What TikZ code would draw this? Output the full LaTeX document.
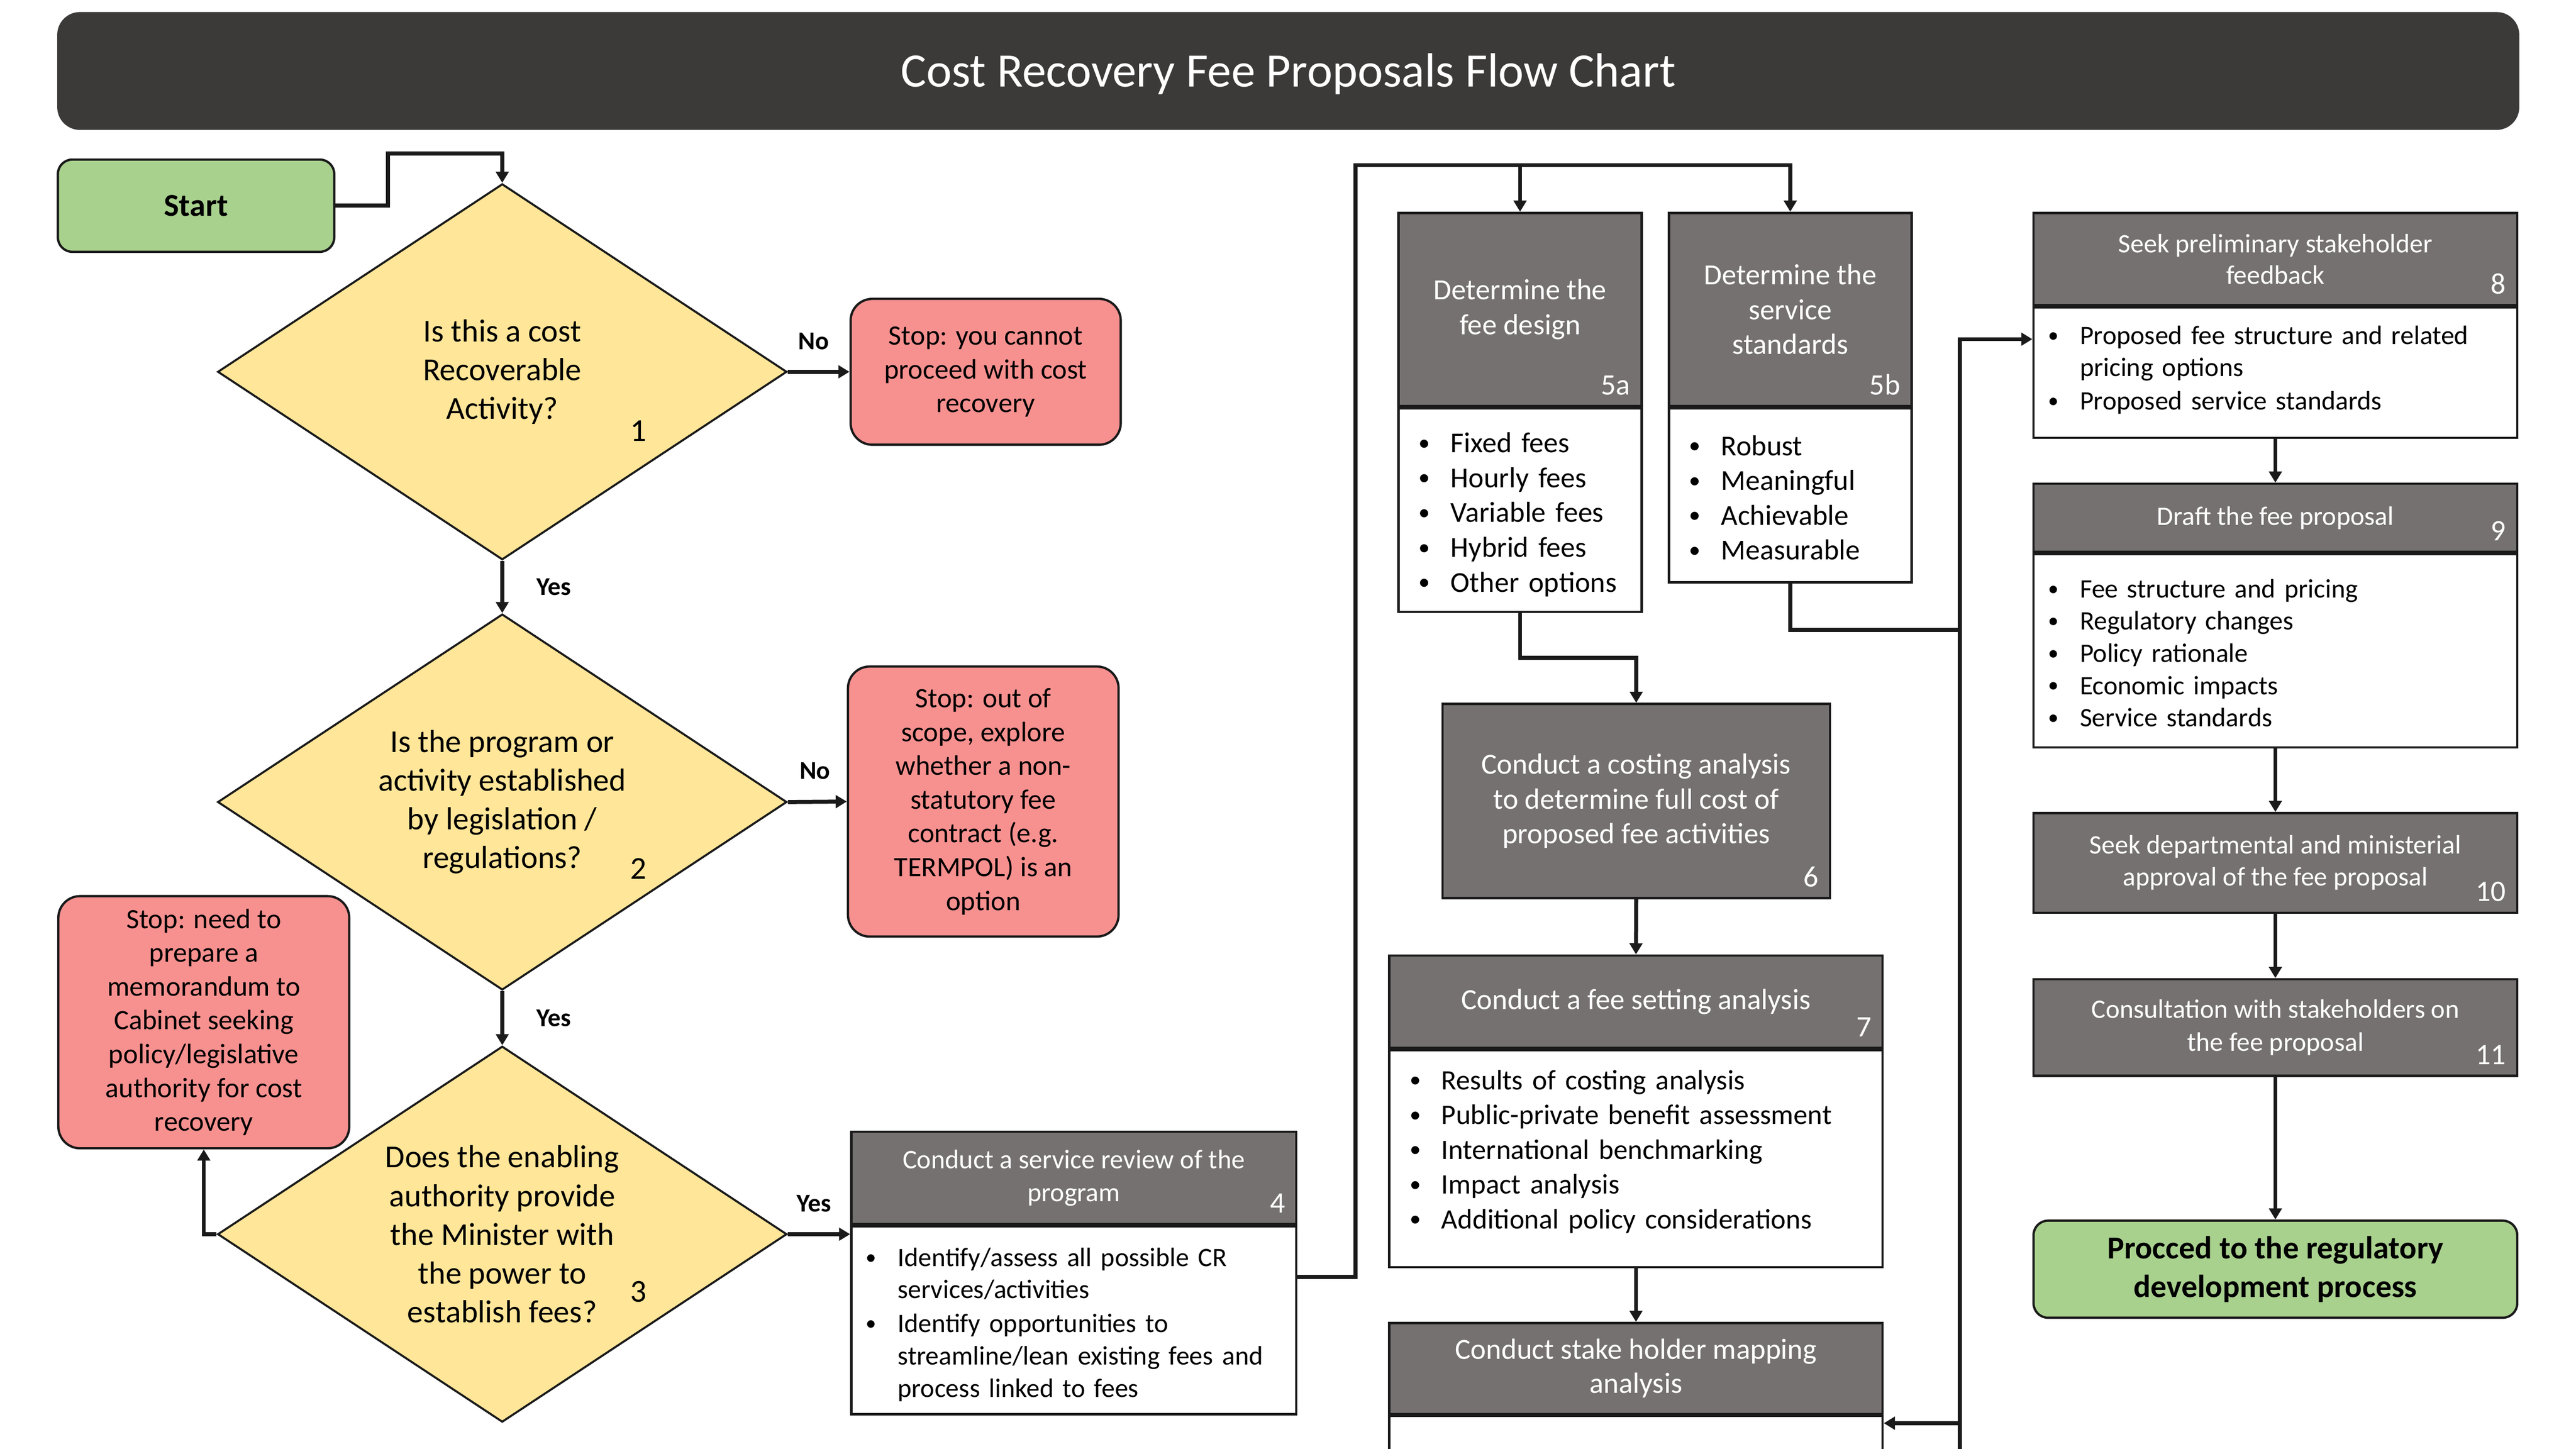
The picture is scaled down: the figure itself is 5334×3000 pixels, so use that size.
\documentclass[tikz,border=0pt]{standalone}
\usepackage{fontspec}
\setmainfont{Carlito}
\usepackage{graphicx}
\usepackage{tikz}
\usetikzlibrary{calc}
\usetikzlibrary{arrows.meta,positioning,shapes.geometric}

\definecolor{barc}{HTML}{3B3A38}
\definecolor{boxc}{HTML}{767171}
\definecolor{goc}{HTML}{A9D18E}
\definecolor{askc}{HTML}{FFE699}
\definecolor{stopc}{HTML}{F79190}
\definecolor{linec}{HTML}{1A1A1A}

\setlength\parskip{0pt}
\newcommand\fs[2]{\fontsize{#1}{#2}\selectfont}
\newcommand\bpt[3]{\par\noindent\makebox[#2][l]{\hspace{#1}\raisebox{0.08em}{\scalebox{0.8}{\textbullet}}}%
   \begin{tabular}[t]{@{}l@{}}#3\end{tabular}}
\newcommand\bitem[1]{\bpt{0.42cm}{1.08cm}{#1}}
\newcommand\sitem[1]{\bpt{0.3cm}{0.96cm}{#1}}

\begin{document}
\begin{tikzpicture}[x=0.01cm,y=-0.01cm,
   line/.style={draw=linec,line width=2.35pt},
   arr/.style={line,-{Triangle[length=0.23cm,width=0.26cm]}},
   titlebar/.style={fill=barc,rounded corners=0.47cm,text=white,font=\fs{28.3}{34},
      minimum width=50.95cm,minimum height=2.44cm,text height=24pt,text depth=5.4pt},
   go/.style={draw=linec,line width=1.35pt,fill=goc,rounded corners=0.3cm,align=center,
      font=\bfseries\fs{18.8}{22.8}},
   ask/.style={diamond,shape aspect=1.5,draw=linec,line width=1.2pt,fill=askc,inner sep=0pt,
      minimum width=11.78cm,minimum height=7.78cm,align=center,font=\fs{18.8}{22.8}},
   stopbox/.style={draw=linec,line width=1.35pt,fill=stopc,rounded corners=0.45cm,align=center,
      font=\fs{16.5}{19.9}},
   head/.style={draw=linec,line width=1.35pt,fill=boxc,text=white,align=center,inner sep=0pt},
   body/.style={draw=linec,line width=1.35pt,fill=white,inner sep=0pt,align=left},
   num/.style={text=white,inner sep=0.25cm,anchor=south east,font=\fs{17.5}{20}},
   dnum/.style={font=\fs{18.8}{22.8}},
   lbl/.style={inner sep=0pt,font=\bfseries\fs{15.1}{18}}]
\useasboundingbox (0,0) rectangle (5334,3000);
\clip (0,0) rectangle (5334,3000);

\node[titlebar] (title) at (2667.5,147) {Cost Recovery Fee Proposals Flow Chart};
\node[go,minimum width=5.72cm,minimum height=1.91cm] (start) at (406,426) {Start};

\node[ask] (d1) at (1040,770) {Is this a cost\\Recoverable\\Activity?};
\node[ask] (d2) at (1040,1661) {Is the program or\\activity established\\by legislation /\\regulations?};
\node[ask] (d3) at (1040,2556) {Does the enabling\\authority provide\\the Minister with\\the power to\\establish fees?};
\node[dnum] (k1) at ($(d1)+(282,122)$) {1};
\node[dnum] (k2) at ($(d2)+(282,138)$) {2};
\node[dnum] (k3) at ($(d3)+(282,119)$) {3};

\node[stopbox,minimum width=5.59cm,minimum height=3.02cm] (stop1) at (2041,770)
   {Stop: you cannot\\proceed with cost\\recovery};
\node[stopbox,minimum width=5.6cm,minimum height=5.59cm] (stop2) at (2036,1660)
   {Stop: out of\\scope, explore\\whether a non-\\statutory fee\\contract (e.g.\\TERMPOL) is an\\option};
\node[stopbox,minimum width=6.02cm,minimum height=5.22cm] (stop3) at (422,2117)
   {Stop: need to\\prepare a\\memorandum to\\Cabinet seeking\\policy/legislative\\authority for cost\\recovery};

\node[head,minimum width=9.21cm,minimum height=1.91cm,font=\fs{15.8}{19.6}] (h4) at (2223.5,2439.5)
   {Conduct a service review of the\\program};
\node[body,below=0pt of h4,text width=9.21cm,minimum height=3.89cm,font=\fs{15.7}{19}] (b4)
   {\sitem{Identify/assess all possible CR\\services/activities}%
    \sitem{Identify opportunities to\\streamline/lean existing fees and\\process linked to fees}};
\node[num] (k4) at (h4.south east) {4};

\node[head,minimum width=5.03cm,minimum height=4cm,font=\fs{17.2}{20.5}] (h5a) at (3147.5,641)
   {Determine the\\fee design};
\node[body,below=0pt of h5a,text width=5.03cm,minimum height=4.21cm,font=\fs{17}{20.5}] (b5a)
   {\bitem{Fixed fees}\bitem{Hourly fees}\bitem{Variable fees}\bitem{Hybrid fees}\bitem{Other options}};
\node[num] (k5a) at (h5a.south east) {5a};

\node[head,minimum width=5.02cm,minimum height=4cm,font=\fs{17.2}{20.5}] (h5b) at (3707,641)
   {Determine the\\service\\standards};
\node[body,below=0pt of h5b,text width=5.02cm,minimum height=3.6cm,font=\fs{17}{20.5}] (b5b)
   {\bitem{Robust}\bitem{Meaningful}\bitem{Achievable}\bitem{Measurable}};
\node[num] (k5b) at (h5b.south east) {5b};

\node[head,minimum width=8.02cm,minimum height=4.02cm,font=\fs{17.2}{20.5}] (c6) at (3388,1659)
   {Conduct a costing analysis\\to determine full cost of\\proposed fee activities};
\node[num] (k6) at (c6.south east) {6};

\node[head,minimum width=10.21cm,minimum height=1.91cm,font=\fs{17.2}{20.5}] (h7) at (3387.5,2074.5)
   {Conduct a fee setting analysis};
\node[body,below=0pt of h7,text width=10.21cm,minimum height=4.49cm,font=\fs{16.6}{20.5}] (b7)
   {\bitem{Results of costing analysis}\bitem{Public-private benefit assessment}%
    \bitem{International benchmarking}\bitem{Impact analysis}%
    \bitem{Additional policy considerations\rule[-0.7cm]{0pt}{0.7cm}}};
\node[num] (k7) at (h7.south east) {7};

\node[head,minimum width=10.21cm,minimum height=1.88cm,font=\fs{17.2}{20}] (h12) at (3387.5,2834)
   {Conduct stake holder mapping\\analysis};
\node[body,below=0pt of h12,text width=10.21cm,minimum height=2cm] (b12) {};

\node[head,minimum width=10.01cm,minimum height=1.91cm,font=\fs{15.7}{18.6}] (h8) at (4711.5,536.5)
   {Seek preliminary stakeholder\\feedback};
\node[body,below=0pt of h8,text width=10.01cm,minimum height=2.7cm,font=\fs{15.7}{18.7}] (b8)
   {\sitem{Proposed fee structure and related\\pricing options}%
    \sitem{Proposed service standards\rule[-0.48cm]{0pt}{0.48cm}}};
\node[num] (k8) at (h8.south east) {8};

\node[head,minimum width=10.01cm,minimum height=1.41cm,font=\fs{15.7}{18.6}] (h9) at (4711.5,1072.5)
   {Draft the fee proposal};
\node[body,below=0pt of h9,text width=10.01cm,minimum height=4cm,font=\fs{15.7}{19}] (b9)
   {\sitem{Fee structure and pricing}\sitem{Regulatory changes}\sitem{Policy rationale}%
    \sitem{Economic impacts}\sitem{Service standards}};
\node[num] (k9) at (h9.south east) {9};

\node[head,minimum width=10.01cm,minimum height=2.06cm,font=\fs{15.7}{18.8}] (c10) at (4711.5,1787)
   {Seek departmental and ministerial\\approval of the fee proposal};
\node[num] (k10) at (c10.south east) {10};
\node[head,minimum width=10.01cm,minimum height=2cm,font=\fs{15.7}{19.3}] (c11) at (4711.5,2128)
   {Consultation with stakeholders on\\the fee proposal};
\node[num] (k11) at (c11.south east) {11};
\node[go,minimum width=10.01cm,minimum height=2.01cm] (finish) at (4711.5,2628.5)
   {Procced to the regulatory\\development process};

\coordinate (top) at (2807,342);
\coordinate (rail) at (4058,1305);
\coordinate (railend) at (4058,3050);

\draw[arr] (start.east) -| ++(109,-108) -| (d1.north);
\draw[arr] (d1.east) -- node[lbl,above=0.42cm,pos=0.42] {No} (stop1.west);
\draw[arr] (d1.south) -- node[lbl,right=0.67cm] {Yes} (d2.north);
\draw[arr] (d2.east) -- node[lbl,above=0.42cm,pos=0.46] {No} (stop2.west);
\draw[arr] (d2.south) -- node[lbl,right=0.67cm] {Yes} (d3.north);
\draw[arr] (d3.west) -| (stop3.south);
\draw[arr] (d3.east) -- node[lbl,above=0.42cm,pos=0.42] {Yes} (d3.east -| b4.west);
\draw[arr] ($(b4.north east)+(0,107)$) -| (top) -| (h5b.north);
\draw[arr] (top) -| (h5a.north);
\draw[arr] (b5a.south) |- ($(b5a.south)!.5!(c6.north)$) -| (c6.north);
\draw[arr] (c6.south) -- (h7.north);
\draw[arr] (b7.south) -- (h12.north);
\draw[line] (b5b.south) |- (rail);
\draw[arr] (rail) |- ($(b8.north west)+(0,68)$);
\draw[arr] (rail) |- ($(b12.north east)+(0,17)$);
\draw[line] (rail) -- (railend);
\draw[arr] (b8.south) -- (h9.north);
\draw[arr] (b9.south) -- (c10.north);
\draw[arr] (c10.south) -- (c11.north);
\draw[arr] (c11.south) -- (finish.north);
\end{tikzpicture}
\end{document}
